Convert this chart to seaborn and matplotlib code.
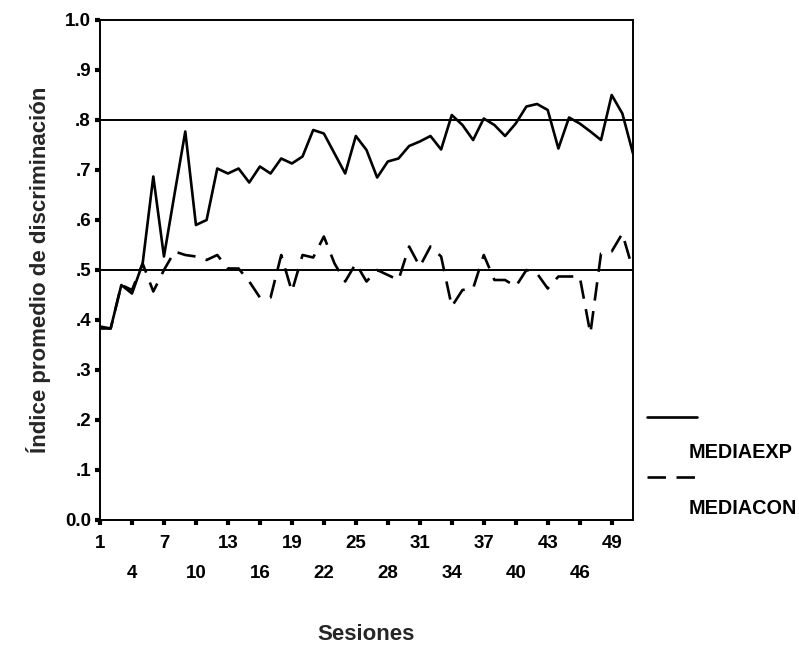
import numpy as np
import pandas as pd
import matplotlib
matplotlib.use("Agg")
import matplotlib.pyplot as plt
from matplotlib.lines import Line2D
import seaborn as sns

# Mean discrimination index per session, experimental and control groups
sessions = list(range(1, 52))
media_exp = [0.387, 0.383, 0.470, 0.453, 0.513, 0.687, 0.527, 0.653, 0.777, 0.590,
             0.600, 0.703, 0.693, 0.703, 0.675, 0.707, 0.693, 0.723, 0.713, 0.727,
             0.780, 0.773, 0.733, 0.693, 0.768, 0.740, 0.685, 0.717, 0.723, 0.748,
             0.757, 0.768, 0.741, 0.810, 0.790, 0.760, 0.803, 0.790, 0.768, 0.793,
             0.827, 0.832, 0.820, 0.743, 0.805, 0.793, 0.777, 0.760, 0.850, 0.813,
             0.733]
media_con = [0.383, 0.383, 0.470, 0.460, 0.513, 0.457, 0.500, 0.537, 0.530, 0.527,
             0.520, 0.530, 0.503, 0.503, 0.477, 0.445, 0.445, 0.530, 0.457, 0.530,
             0.525, 0.567, 0.513, 0.477, 0.513, 0.477, 0.500, 0.490, 0.480, 0.547,
             0.507, 0.547, 0.527, 0.427, 0.460, 0.463, 0.530, 0.480, 0.480, 0.467,
             0.500, 0.493, 0.463, 0.487, 0.487, 0.487, 0.373, 0.533, 0.537, 0.573,
             0.500]
series_names = ["MEDIAEXP", "MEDIACON"]
ref_levels = [0.5, 0.8]
y_ticks = [0.0, 0.1, 0.2, 0.3, 0.4, 0.5, 0.6, 0.7, 0.8, 0.9, 1.0]
y_tick_labels = ["0.0", ".1", ".2", ".3", ".4", ".5", ".6", ".7", ".8", ".9", "1.0"]
x_ticks_row1 = list(range(1, 50, 6))
x_ticks_row2 = list(range(4, 50, 6))

df = pd.DataFrame({
    "Sesiones": sessions * 2,
    "valor": media_exp + media_con,
    "serie": [series_names[0]] * len(sessions) + [series_names[1]] * len(sessions),
})

sns.set_style("ticks")
plt.rcParams["font.family"] = ["Liberation Sans", "DejaVu Sans"]
plt.rcParams["font.weight"] = "bold"

fig = plt.figure(figsize=(7.99, 6.49), dpi=100)
ax = fig.add_axes([100 / 799, 1 - 520 / 649, 533 / 799, 500 / 649])

line_w = 1.9
dash = (7, 4)
sns.lineplot(data=df, x="Sesiones", y="valor", style="serie",
             style_order=series_names,
             dashes={series_names[0]: "", series_names[1]: dash},
             color="black", linewidth=line_w, legend=False, ax=ax,
             estimator=None, sort=False)

for lvl in ref_levels:
    ax.axhline(lvl, color="black", linewidth=1.4, zorder=1)

ax.set_xlim(1, 51)
ax.set_ylim(0, 1)
ax.set_yticks(y_ticks)
ax.set_yticklabels(y_tick_labels)
ax.set_xticks(x_ticks_row1)
ax.set_xticklabels([str(v) for v in x_ticks_row1])
ax.set_xticks(x_ticks_row2, minor=True)
ax.set_xticklabels([str(v) for v in x_ticks_row2], minor=True)

for side in ["left", "right", "top", "bottom"]:
    ax.spines[side].set_visible(True)
    ax.spines[side].set_linewidth(1.4)
    ax.spines[side].set_color("black")

ax.tick_params(axis="both", which="both", direction="out", length=3.5,
               width=3, color="black", labelsize=13.5, labelcolor="black")
ax.tick_params(axis="x", which="major", pad=7)
ax.tick_params(axis="x", which="minor", pad=29)
ax.tick_params(axis="y", which="major", pad=3)

ax.set_xlabel("Sesiones", fontsize=16, fontweight="bold", labelpad=30)
ax.set_ylabel("Índice promedio de discriminación", fontsize=16,
              fontweight="bold", labelpad=10)

# Legend drawn beside the plot: a line sample, then its name below it
legend_rows = [(417, 453, ""), (477, 508, dash)]
for (ly, ty, d), name in zip(legend_rows, series_names):
    ln = Line2D([647 / 799, 697 / 799], [1 - ly / 649, 1 - ly / 649],
                transform=fig.transFigure, color="black", linewidth=line_w)
    if d:
        ln.set_dashes(d)
    fig.add_artist(ln)
    fig.text(689 / 799, 1 - ty / 649, name, fontsize=14.3, fontweight="bold",
             va="center", ha="left", color="black")

fig.savefig("out.png", dpi=100)
